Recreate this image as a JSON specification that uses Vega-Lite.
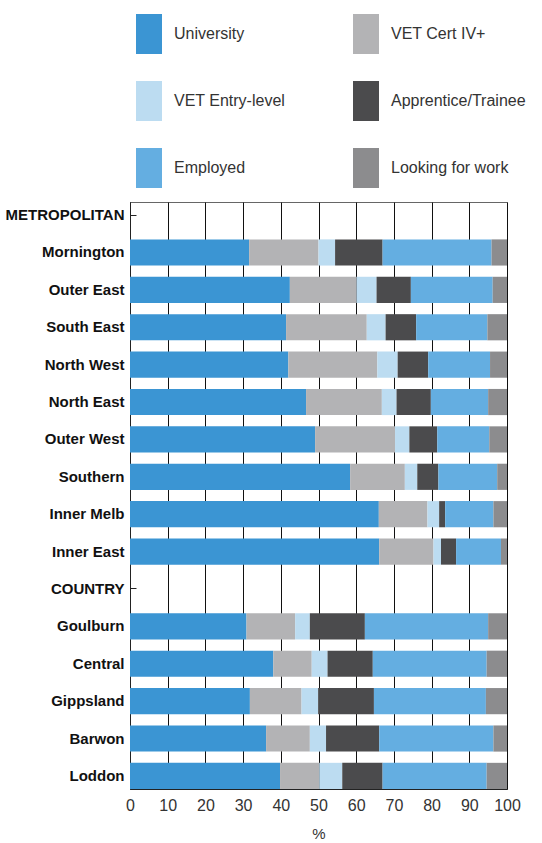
{
 "$schema": "https://vega.github.io/schema/vega-lite/v6.json",
 "width": 377,
 "height": 587,
 "autosize": {"type": "none"},
 "padding": {"left": 130, "top": 202, "right": 35, "bottom": 54},
 "background": "white",
 "config": {"view": {"stroke": "#666", "strokeWidth": 1}, "font": "Liberation Sans"},
 "data": {"values": [
  {"region":"Mornington","cat":"University","k":1,"value":31.6},
  {"region":"Mornington","cat":"VET Cert IV+","k":2,"value":18.4},
  {"region":"Mornington","cat":"VET Entry-level","k":3,"value":4.4},
  {"region":"Mornington","cat":"Apprentice/Trainee","k":4,"value":12.6},
  {"region":"Mornington","cat":"Employed","k":5,"value":28.9},
  {"region":"Mornington","cat":"Looking for work","k":6,"value":4.1},
  {"region":"Outer East","cat":"University","k":1,"value":42.4},
  {"region":"Outer East","cat":"VET Cert IV+","k":2,"value":17.7},
  {"region":"Outer East","cat":"VET Entry-level","k":3,"value":5.3},
  {"region":"Outer East","cat":"Apprentice/Trainee","k":4,"value":9.1},
  {"region":"Outer East","cat":"Employed","k":5,"value":21.7},
  {"region":"Outer East","cat":"Looking for work","k":6,"value":3.8},
  {"region":"South East","cat":"University","k":1,"value":41.4},
  {"region":"South East","cat":"VET Cert IV+","k":2,"value":21.4},
  {"region":"South East","cat":"VET Entry-level","k":3,"value":5.0},
  {"region":"South East","cat":"Apprentice/Trainee","k":4,"value":8.1},
  {"region":"South East","cat":"Employed","k":5,"value":18.9},
  {"region":"South East","cat":"Looking for work","k":6,"value":5.2},
  {"region":"North West","cat":"University","k":1,"value":42.0},
  {"region":"North West","cat":"VET Cert IV+","k":2,"value":23.6},
  {"region":"North West","cat":"VET Entry-level","k":3,"value":5.4},
  {"region":"North West","cat":"Apprentice/Trainee","k":4,"value":8.1},
  {"region":"North West","cat":"Employed","k":5,"value":16.4},
  {"region":"North West","cat":"Looking for work","k":6,"value":4.5},
  {"region":"North East","cat":"University","k":1,"value":46.7},
  {"region":"North East","cat":"VET Cert IV+","k":2,"value":20.1},
  {"region":"North East","cat":"VET Entry-level","k":3,"value":3.9},
  {"region":"North East","cat":"Apprentice/Trainee","k":4,"value":9.1},
  {"region":"North East","cat":"Employed","k":5,"value":15.2},
  {"region":"North East","cat":"Looking for work","k":6,"value":5.0},
  {"region":"Outer West","cat":"University","k":1,"value":49.1},
  {"region":"Outer West","cat":"VET Cert IV+","k":2,"value":21.2},
  {"region":"Outer West","cat":"VET Entry-level","k":3,"value":3.8},
  {"region":"Outer West","cat":"Apprentice/Trainee","k":4,"value":7.4},
  {"region":"Outer West","cat":"Employed","k":5,"value":13.8},
  {"region":"Outer West","cat":"Looking for work","k":6,"value":4.7},
  {"region":"Southern","cat":"University","k":1,"value":58.4},
  {"region":"Southern","cat":"VET Cert IV+","k":2,"value":14.5},
  {"region":"Southern","cat":"VET Entry-level","k":3,"value":3.3},
  {"region":"Southern","cat":"Apprentice/Trainee","k":4,"value":5.6},
  {"region":"Southern","cat":"Employed","k":5,"value":15.6},
  {"region":"Southern","cat":"Looking for work","k":6,"value":2.6},
  {"region":"Inner Melb","cat":"University","k":1,"value":66.0},
  {"region":"Inner Melb","cat":"VET Cert IV+","k":2,"value":12.9},
  {"region":"Inner Melb","cat":"VET Entry-level","k":3,"value":3.1},
  {"region":"Inner Melb","cat":"Apprentice/Trainee","k":4,"value":1.6},
  {"region":"Inner Melb","cat":"Employed","k":5,"value":12.8},
  {"region":"Inner Melb","cat":"Looking for work","k":6,"value":3.6},
  {"region":"Inner East","cat":"University","k":1,"value":66.1},
  {"region":"Inner East","cat":"VET Cert IV+","k":2,"value":14.4},
  {"region":"Inner East","cat":"VET Entry-level","k":3,"value":2.0},
  {"region":"Inner East","cat":"Apprentice/Trainee","k":4,"value":4.0},
  {"region":"Inner East","cat":"Employed","k":5,"value":11.9},
  {"region":"Inner East","cat":"Looking for work","k":6,"value":1.6},
  {"region":"Goulburn","cat":"University","k":1,"value":30.9},
  {"region":"Goulburn","cat":"VET Cert IV+","k":2,"value":12.9},
  {"region":"Goulburn","cat":"VET Entry-level","k":3,"value":3.9},
  {"region":"Goulburn","cat":"Apprentice/Trainee","k":4,"value":14.6},
  {"region":"Goulburn","cat":"Employed","k":5,"value":32.7},
  {"region":"Goulburn","cat":"Looking for work","k":6,"value":5.0},
  {"region":"Central","cat":"University","k":1,"value":38.0},
  {"region":"Central","cat":"VET Cert IV+","k":2,"value":10.2},
  {"region":"Central","cat":"VET Entry-level","k":3,"value":4.2},
  {"region":"Central","cat":"Apprentice/Trainee","k":4,"value":12.0},
  {"region":"Central","cat":"Employed","k":5,"value":30.2},
  {"region":"Central","cat":"Looking for work","k":6,"value":5.4},
  {"region":"Gippsland","cat":"University","k":1,"value":31.8},
  {"region":"Gippsland","cat":"VET Cert IV+","k":2,"value":13.7},
  {"region":"Gippsland","cat":"VET Entry-level","k":3,"value":4.4},
  {"region":"Gippsland","cat":"Apprentice/Trainee","k":4,"value":14.8},
  {"region":"Gippsland","cat":"Employed","k":5,"value":29.7},
  {"region":"Gippsland","cat":"Looking for work","k":6,"value":5.6},
  {"region":"Barwon","cat":"University","k":1,"value":36.1},
  {"region":"Barwon","cat":"VET Cert IV+","k":2,"value":11.6},
  {"region":"Barwon","cat":"VET Entry-level","k":3,"value":4.3},
  {"region":"Barwon","cat":"Apprentice/Trainee","k":4,"value":14.1},
  {"region":"Barwon","cat":"Employed","k":5,"value":30.3},
  {"region":"Barwon","cat":"Looking for work","k":6,"value":3.6},
  {"region":"Loddon","cat":"University","k":1,"value":39.8},
  {"region":"Loddon","cat":"VET Cert IV+","k":2,"value":10.4},
  {"region":"Loddon","cat":"VET Entry-level","k":3,"value":6.1},
  {"region":"Loddon","cat":"Apprentice/Trainee","k":4,"value":10.7},
  {"region":"Loddon","cat":"Employed","k":5,"value":27.6},
  {"region":"Loddon","cat":"Looking for work","k":6,"value":5.4}
 ]},
 "mark": {"type": "bar"},
 "encoding": {
  "y": {
   "field": "region", "type": "nominal",
   "scale": {"domain": ["METROPOLITAN","Mornington","Outer East","South East","North West","North East","Outer West","Southern","Inner Melb","Inner East","COUNTRY","Goulburn","Central","Gippsland","Barwon","Loddon"], "paddingInner": 0.3, "paddingOuter": 0},
   "axis": {"title": null, "labelFont": "Liberation Sans", "labelFontWeight": "bold", "labelFontSize": 15, "labelColor": "#111", "domain": true, "domainColor": "#222", "ticks": true, "tickSize": -6, "tickColor": "#222", "labelPadding": 12, "grid": false}
  },
  "x": {
   "field": "value", "type": "quantitative", "stack": "zero",
   "scale": {"domain": [0, 100], "nice": false},
   "axis": {"values": [0,10,20,30,40,50,60,70,80,90,100], "title": "%", "titleFont": "Liberation Sans", "titleFontWeight": "normal", "titleFontSize": 15, "titleColor": "#333", "titlePadding": 13, "grid": true, "gridColor": "#111", "gridOpacity": 1, "gridWidth": 1, "tickSize": 0, "labelFont": "Liberation Sans", "labelFontSize": 16, "labelColor": "#333", "labelPadding": 8, "labelFlush": false, "labelOverlap": false, "domainColor": "#222"}
  },
  "color": {
   "field": "cat", "type": "nominal",
   "scale": {"domain": ["University","VET Cert IV+","VET Entry-level","Apprentice/Trainee","Employed","Looking for work"], "range": ["#3b95d3","#b3b3b5","#bcdcf1","#4b4b4d","#64aee1","#8c8c8e"]},
   "legend": {"orient": "none", "legendX": -1, "legendY": -188, "direction": "horizontal", "columns": 2, "title": null, "symbolType": "M-0.65,-1H0.65V1H-0.65Z", "symbolSize": 1600, "symbolStrokeWidth": 0, "symbolOpacity": 1, "labelFont": "Liberation Sans", "labelFontSize": 16, "labelColor": "#333", "labelOffset": 5, "rowPadding": 27, "columnPadding": 60}
  },
  "order": {"field": "k", "type": "quantitative"}
 }
}
